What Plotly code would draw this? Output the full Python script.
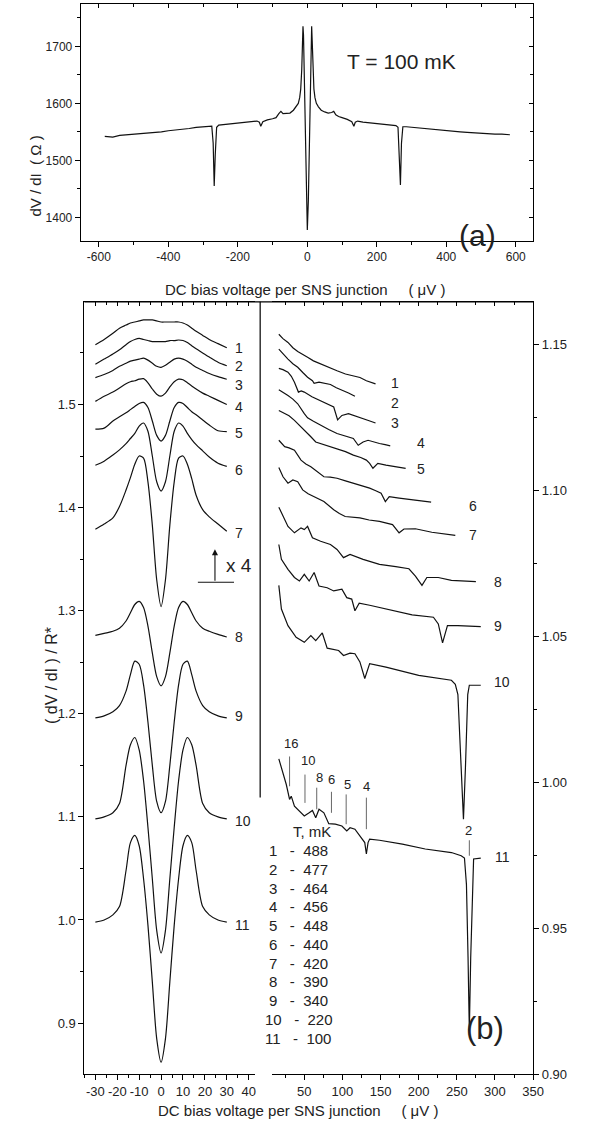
import plotly.graph_objects as go

FONT = "Arial, 'Liberation Sans', Helvetica, sans-serif"
TXT = "#222222"
INK = "#111111"
W, H = 603, 1144

# ---------------- panel (a): dV/dI at T = 100 mK ----------------
a_bias = [-583, -560, -540, -520, -500, -480, -460, -440, -420, -400, -380, -360, -340, -320, -300,
          -285, -275, -271, -268, -265, -261, -255, -240, -220, -200, -180, -160, -145, -138, -134,
          -128, -115, -100, -90, -82, -76, -70, -60, -50, -40, -32, -26, -22, -19, -16,
          -14, -12.5, -11, -9, -6, -3, 0, 3, 6, 9, 11, 12.5, 14, 16, 19, 22, 26, 32, 40, 50,
          60, 70, 76, 82, 90, 100, 115, 128, 134, 138, 145, 160, 180, 200, 220, 240, 255,
          261, 265, 268, 271, 275, 285, 300, 320, 340, 360, 380, 400, 420, 440, 460, 480,
          500, 520, 540, 560, 583]
a_dvdi = [1542, 1541, 1544, 1545, 1546, 1546, 1548, 1549, 1550, 1552, 1553, 1555, 1556, 1558, 1559,
          1560, 1560, 1530, 1455, 1510, 1558, 1562, 1563, 1565, 1566, 1567, 1568, 1569, 1567, 1560,
          1568, 1571, 1573, 1575, 1582, 1586, 1582, 1583, 1583, 1588, 1594, 1600, 1610, 1625, 1660,
          1710, 1735, 1720, 1650, 1530, 1430, 1378, 1430, 1530, 1650, 1720, 1735, 1710, 1660, 1625,
          1610, 1600, 1594, 1588, 1585, 1583, 1584, 1586, 1580, 1577, 1575, 1572, 1568, 1560, 1567,
          1569, 1567, 1566, 1565, 1564, 1562, 1561, 1558, 1510, 1457, 1530, 1559, 1559, 1558, 1557,
          1556, 1555, 1554, 1552, 1551, 1550, 1549, 1548, 1547, 1547, 1546, 1546, 1545]

# ---------------- panel (b), left: central part, x4 ----------------
bias_l = [-30, -26, -22, -19, -16, -14, -12, -10, -8, -6, -4, -2, 0, 2, 4, 6, 8, 10, 12, 14, 16, 19, 22, 26, 30]
l1 = [1.558, 1.563, 1.569, 1.574, 1.577, 1.579, 1.580, 1.581, 1.582, 1.582, 1.582, 1.581, 1.580,
      1.580, 1.580, 1.580, 1.580, 1.579, 1.577, 1.574, 1.571, 1.567, 1.563, 1.559, 1.555]
l2 = [1.539, 1.544, 1.549, 1.553, 1.558, 1.561, 1.563, 1.564, 1.563, 1.562, 1.561, 1.561, 1.561,
      1.561, 1.562, 1.562, 1.5625, 1.562, 1.560, 1.557, 1.554, 1.550, 1.546, 1.541, 1.5376]
l3 = [1.526, 1.529, 1.533, 1.537, 1.540, 1.542, 1.543, 1.544, 1.545, 1.543, 1.540, 1.537, 1.536,
      1.538, 1.541, 1.544, 1.545, 1.544, 1.542, 1.539, 1.536, 1.533, 1.530, 1.527, 1.5245]
l4 = [1.503, 1.508, 1.512, 1.516, 1.520, 1.522, 1.523, 1.5245, 1.525, 1.521, 1.515, 1.510, 1.508,
      1.511, 1.517, 1.522, 1.5245, 1.524, 1.521, 1.518, 1.515, 1.511, 1.508, 1.504, 1.500]
l5 = [1.476, 1.477, 1.484, 1.488, 1.492, 1.495, 1.498, 1.501, 1.502, 1.497, 1.484, 1.470, 1.4645,
      1.470, 1.484, 1.497, 1.502, 1.501, 1.497, 1.493, 1.490, 1.485, 1.480, 1.4745, 1.4737]
l6 = [1.441, 1.445, 1.451, 1.456, 1.462, 1.467, 1.472, 1.479, 1.482, 1.474, 1.450, 1.425, 1.416,
      1.425, 1.450, 1.474, 1.482, 1.479, 1.472, 1.466, 1.461, 1.455, 1.449, 1.443, 1.440]
l7 = [1.379, 1.384, 1.390, 1.401, 1.417, 1.429, 1.442, 1.450, 1.448, 1.425, 1.383, 1.330, 1.304,
      1.330, 1.383, 1.425, 1.448, 1.450, 1.442, 1.428, 1.412, 1.398, 1.391, 1.384, 1.377]
l8 = [1.276, 1.278, 1.280, 1.283, 1.290, 1.298, 1.306, 1.309, 1.303, 1.285, 1.259, 1.236, 1.227,
      1.236, 1.259, 1.285, 1.303, 1.309, 1.306, 1.298, 1.290, 1.283, 1.280, 1.277, 1.2745]
l9 = [1.196, 1.198, 1.202, 1.208, 1.222, 1.238, 1.251, 1.248, 1.228, 1.192, 1.150, 1.115, 1.104,
      1.115, 1.150, 1.192, 1.228, 1.248, 1.251, 1.238, 1.222, 1.208, 1.202, 1.198, 1.196]
l10 = [1.098, 1.100, 1.104, 1.113, 1.150, 1.170, 1.177, 1.165, 1.135, 1.090, 1.040, 0.990, 0.968,
       0.990, 1.040, 1.090, 1.135, 1.165, 1.177, 1.170, 1.150, 1.113, 1.104, 1.100, 1.098]
l11 = [0.998, 1.000, 1.005, 1.013, 1.048, 1.075, 1.082, 1.072, 1.040, 0.995, 0.940, 0.885, 0.862,
       0.885, 0.940, 0.995, 1.040, 1.072, 1.082, 1.075, 1.048, 1.013, 1.005, 1.000, 0.998]

# ---------------- panel (b), right: subgap structure ----------------
r1_bias = [16.6, 22, 28.6, 35, 41.4, 48, 54.3, 62, 71.4, 82, 92.9, 104, 114.3, 123, 131.4, 137, 143.4]
r1_val = [1.1534, 1.1519, 1.1506, 1.1488, 1.1475, 1.1466, 1.1455, 1.1443, 1.1432, 1.1421, 1.1409,
          1.1398, 1.1392, 1.1386, 1.1375, 1.1369, 1.1364]
r2_bias = [16.6, 22, 28.6, 35, 41.4, 48, 54.3, 60.7, 62.9, 69.3, 76, 84.3, 92, 101.4, 108, 116.4]
r2_val = [1.1483, 1.1466, 1.1449, 1.1433, 1.1421, 1.1403, 1.1387, 1.1375, 1.1366, 1.1370, 1.1366,
          1.1362, 1.1351, 1.1341, 1.1333, 1.1322]
r3_bias = [16.6, 22, 28.6, 33, 37.1, 42.3, 46, 50, 60, 71.4, 80, 88.6, 93.7, 99.3, 107.9, 118, 127.1, 135, 143.4]
r3_val = [1.1417, 1.1413, 1.1404, 1.1390, 1.1370, 1.1336, 1.1340, 1.1336, 1.1320, 1.1307, 1.1297,
          1.1285, 1.1241, 1.1256, 1.1262, 1.1254, 1.1245, 1.1238, 1.1230]
r4_bias = [16.6, 22, 28.6, 35, 41.4, 50, 54.3, 62, 71.4, 82, 92.9, 104, 114.3, 120.7, 127.1, 133.6,
           141, 148.6, 156, 162.7]
r4_val = [1.1344, 1.1336, 1.1324, 1.1312, 1.1296, 1.1262, 1.1248, 1.1236, 1.1222, 1.1208, 1.1194,
          1.1186, 1.1177, 1.1154, 1.1165, 1.1171, 1.1165, 1.1160, 1.1156, 1.1152]
r5_bias = [16.6, 24.3, 30, 37.1, 44, 50, 58.6, 65, 71.4, 82, 92.9, 104, 114.3, 124, 131.4, 135.7,
           140, 146.4, 157.1, 170, 182.9]
r5_val = [1.1273, 1.1262, 1.1255, 1.1239, 1.1222, 1.1205, 1.1183, 1.1165, 1.1160, 1.1151, 1.1143,
          1.1132, 1.1120, 1.1112, 1.1103, 1.1092, 1.1075, 1.1092, 1.1086, 1.1080, 1.1075]
r6_bias = [16.6, 24.3, 30, 37.1, 45.7, 52, 58.6, 67, 75.7, 84, 92.9, 104, 114.3, 125, 135.7, 143,
           150.7, 156.3, 161.4, 174.3, 191.4, 205, 216.3]
r6_val = [1.1171, 1.1149, 1.1145, 1.1137, 1.1103, 1.1090, 1.1080, 1.1063, 1.1046, 1.1045, 1.1041,
          1.1032, 1.1024, 1.1016, 1.1007, 1.0999, 1.0990, 1.0961, 1.0978, 1.0973, 1.0967, 1.0963, 1.0959]
r7_bias = [16.6, 22.1, 28.6, 35, 41.4, 47.9, 55, 62.9, 75.7, 88.6, 96, 103.6, 122.9, 135, 148.6,
           165.7, 174.3, 180.7, 195.7, 217.2, 232, 248]
r7_val = [1.1078, 1.1046, 1.1024, 1.1035, 1.1029, 1.1001, 1.0988, 1.0978, 1.0961, 1.0933, 1.0920,
          1.0910, 1.0905, 1.0898, 1.0893, 1.0882, 1.0854, 1.0867, 1.0868, 1.0856, 1.0851, 1.0845]
r8_bias = [16.6, 22.1, 28.6, 37.1, 45.7, 50, 54.3, 60.7, 71.4, 84.3, 92.9, 101.4, 110, 127.1, 148.6,
           170, 187.2, 195.7, 204.3, 210.7, 225.7, 242.9, 260, 275]
r8_val = [1.0942, 1.0910, 1.0876, 1.0854, 1.0871, 1.0865, 1.0876, 1.0837, 1.0825, 1.0814, 1.0797,
          1.0769, 1.0780, 1.0763, 1.0746, 1.0738, 1.0731, 1.0706, 1.0674, 1.0701, 1.0701, 1.0691,
          1.0689, 1.0687]
r9_bias = [16.6, 20, 28.6, 37.1, 43.6, 50, 56.4, 62.9, 69.3, 80, 88.6, 99.3, 105.7, 112.2, 116.4,
           122, 135.7, 165.7, 191.4, 219.3, 225.7, 231.3, 237.7, 251.4, 281.4]
r9_val = [1.0814, 1.0763, 1.0729, 1.0701, 1.0689, 1.0712, 1.0689, 1.0718, 1.0672, 1.0666, 1.0655,
          1.0661, 1.0632, 1.0627, 1.0587, 1.0613, 1.0606, 1.0587, 1.0573, 1.0565, 1.0542, 1.0477,
          1.0536, 1.0536, 1.0533]
r10_bias = [16.6, 20, 28.6, 39.3, 50, 58.6, 65, 73.6, 80, 95, 101.4, 110, 116.4, 122.9, 129.3, 135.7,
            157.1, 200, 242.9, 248, 251.4, 255.7, 258.7, 261.3, 264.3, 266.4, 281.4]
r10_val = [1.0674, 1.0593, 1.0536, 1.0496, 1.0479, 1.0502, 1.0485, 1.0511, 1.0459, 1.0451, 1.0434,
           1.0442, 1.0440, 1.0412, 1.0355, 1.0406, 1.0394, 1.0366, 1.0349, 1.0335, 1.0300, 1.0050,
           0.9873, 1.0050, 1.0300, 1.0332, 1.0332]
r11_bias = [16.6, 26.4, 30.7, 32.9, 37.1, 50, 56.4, 60.7, 65, 69.3, 75.7, 82.1, 90.7, 99.3, 105.7,
            110, 116.4, 122.9, 129.3, 131.4, 133.6, 135.7, 148.6, 178.6, 208.6, 242.9, 255.7, 260,
            262.6, 264.7, 266.4, 268.2, 270.3, 272, 281.4]
r11_val = [1.0080, 0.9992, 0.9941, 0.9952, 0.9918, 0.9884, 0.9895, 0.9903, 0.9878, 0.9907, 0.9895,
           0.9858, 0.9856, 0.9850, 0.9833, 0.9844, 0.9839, 0.9816, 0.9793, 0.9754, 0.9793, 0.9805,
           0.9801, 0.9788, 0.9771, 0.9759, 0.9748, 0.9740, 0.9650, 0.9400, 0.9147, 0.9400, 0.9650,
           0.9737, 0.9740]

curve_ids = ["1", "2", "3", "4", "5", "6", "7", "8", "9", "10", "11"]
temps_mK = [488, 477, 464, 456, 448, 440, 420, 390, 340, 220, 100]

# subharmonic gap markers, n labels
marker_n = ["16", "10", "8", "6", "5", "4", "2"]
marker_bias = [30.7, 50.9, 66.3, 85.6, 104.9, 131.4, 266.4]

# label positions (layout only)
left_lab_x = [35.8] * 9 + [37.3, 37.3]
left_lab_y = [1.555, 1.537, 1.519, 1.4975, 1.4725, 1.4366, 1.375, 1.2745, 1.1975, 1.096, 0.9955]
right_lab_x = [169.2, 169.2, 169.2, 203.0, 203.0, 271.6, 271.6, 304.2, 304.2, 309.3, 309.3]
right_lab_y = [1.1366, 1.1298, 1.1230, 1.1160, 1.1071, 1.0947, 1.0848, 1.0686, 1.0536, 1.0343, 0.9745]
marker_lo = [0.9986, 0.9929, 0.9907, 0.9895, 0.9856, 0.9839, 0.9748]
marker_hi = [1.0088, 1.0026, 0.9981, 0.9967, 0.9958, 0.9947, 0.9801]
marker_lab_x = [32.9, 54.3, 69.3, 85.6, 107.0, 131.4, 265.2]
marker_lab_y = [1.0134, 1.0073, 1.0017, 1.0009, 0.9992, 0.9986, 0.9833]


def px(x):
    return x / W


def py(y):
    return 1 - y / H


def line(x, y, xa, ya, spline=False):
    return go.Scatter(x=x, y=y, xaxis=xa, yaxis=ya, mode="lines", hoverinfo="skip",
                      line=dict(color=INK, width=1.2, shape="spline" if spline else "linear",
                                smoothing=0.8))


fig = go.Figure()
fig.add_trace(line(a_bias, a_dvdi, "x", "y"))
for ys in [l1, l2, l3, l4, l5, l6, l7, l8, l9, l10, l11]:
    fig.add_trace(line(bias_l, ys, "x2", "y2", spline=True))
for xs, ys in [(r1_bias, r1_val), (r2_bias, r2_val), (r3_bias, r3_val), (r4_bias, r4_val),
               (r5_bias, r5_val), (r6_bias, r6_val), (r7_bias, r7_val), (r8_bias, r8_val),
               (r9_bias, r9_val), (r10_bias, r10_val), (r11_bias, r11_val)]:
    fig.add_trace(line(xs, ys, "x3", "y3"))

# empty traces so the inward mirror-tick axes get drawn
for xa, ya in [("x4", "y4"), ("x5", "y2"), ("x6", "y3")]:
    fig.add_trace(go.Scatter(x=[], y=[], xaxis=xa, yaxis=ya, hoverinfo="skip"))


def ax(size, **kw):
    d = dict(showgrid=False, zeroline=False, showline=True, linecolor="black", linewidth=1.2,
             ticks="outside", ticklen=5, tickwidth=1, tickcolor="black",
             tickfont=dict(family=FONT, size=size, color=TXT))
    d.update(kw)
    return d


def minor(step, where="outside", length=3):
    return dict(tickmode="linear", tick0=0, dtick=step, ticks=where, ticklen=length,
                tickwidth=1, tickcolor="black", showgrid=False)


def inner(rng, step, sub, **kw):
    d = dict(range=rng, showgrid=False, zeroline=False, showline=True, linecolor="black",
             linewidth=1.2, showticklabels=False,
             ticks="inside", ticklen=4, tickwidth=1, tickcolor="black",
             tickmode="linear", tick0=0, dtick=step, minor=minor(sub, "inside", 3))
    d.update(kw)
    return d


a_ticks = [-600, -400, -200, 0, 200, 400, 600]
l_ticks = [-30, -20, -10, 0, 10, 20, 30, 40]
A_X = [-652, 649]
A_Y = [1359.4, 1774.3]
B_LX = [-35, 43]
B_RX = [7.2, 350]

fig.update_layout(
    width=W, height=H, margin=dict(l=0, r=0, t=0, b=0),
    paper_bgcolor="white", plot_bgcolor="white", showlegend=False,
    font=dict(family=FONT, color=TXT),
    xaxis=ax(12, domain=[px(82.3), px(542.7)], anchor="y", range=A_X, mirror=True,
             tickmode="array", tickvals=a_ticks, ticktext=[str(v) for v in a_ticks],
             minor=minor(100)),
    yaxis=ax(12, domain=[py(242.3), py(4)], anchor="x", range=A_Y, mirror=True,
             tickmode="linear", tick0=0, dtick=100, minor=minor(50)),
    xaxis2=ax(13, domain=[px(86), px(260)], anchor="y2", range=B_LX,
              tickmode="array", tickvals=l_ticks, ticktext=[str(v) for v in l_ticks],
              minor=minor(5)),
    yaxis2=ax(13, domain=[py(1081.7), py(304)], anchor="x2", range=[0.8505, 1.5995],
              tickmode="linear", tick0=0, dtick=0.1, tickformat=".1f", minor=minor(0.05)),
    xaxis3=ax(13, domain=[px(276.7), px(543)], anchor="y3", range=B_RX,
              tickmode="linear", tick0=0, dtick=50, minor=minor(25)),
    yaxis3=ax(13, domain=[py(1081.7), py(304)], anchor="x3", side="right", range=[0.90, 1.1645],
              tickmode="linear", tick0=0, dtick=0.05, tickformat=".2f", minor=minor(0.025)),
    # inward ticks on the top / right frame of (a) and the top frame of (b)
    xaxis4=inner(A_X, 200, 100, overlaying="x", anchor="y", side="top"),
    yaxis4=inner(A_Y, 100, 50, overlaying="y", anchor="x", side="right"),
    xaxis5=inner(B_LX, 10, 5, overlaying="x2", anchor="y2", side="top"),
    xaxis6=inner(B_RX, 50, 25, overlaying="x3", anchor="y3", side="top"),
)

shapes = [
    # top frame of panel (b) and the partial divider
    dict(type="line", xref="paper", yref="paper", x0=px(86), x1=px(543), y0=py(304), y1=py(304),
         line=dict(color="black", width=1.2)),
    dict(type="line", xref="paper", yref="paper", x0=px(265), x1=px(265), y0=py(304), y1=py(803),
         line=dict(color="black", width=1.2)),
    # baseline of the "x 4" marker
    dict(type="line", xref="x2", yref="y2", x0=16.8, x1=33.3, y0=1.3275, y1=1.3275,
         line=dict(color=INK, width=1.1)),
]
for xb, lo, hi in zip(marker_bias, marker_lo, marker_hi):
    shapes.append(dict(type="line", xref="x3", yref="y3", x0=xb, x1=xb, y0=lo, y1=hi,
                       line=dict(color="#666666", width=1)))
fig.update_layout(shapes=shapes)

ann = []


def text(t, x, y, size, xref="paper", yref="paper", **kw):
    d = dict(text=t, x=x, y=y, xref=xref, yref=yref, showarrow=False,
             font=dict(family=FONT, size=size, color=TXT))
    d.update(kw)
    ann.append(d)


NB = "\u00a0"
text("T = 100 mK", px(466.7), py(48.3), 21)
text("(a)", px(507), py(219), 30)
text("(b)", px(515.8), py(1055), 31)
text("dV / dI" + NB * 2 + "( \u03a9 )", px(26), py(135), 15, textangle=-90)
text("( dV / dI ) / R*", px(42), py(680), 16, textangle=-90)
title = "DC bias voltage per SNS junction" + NB * 5 + "( \u03bcV )"
text(title, px(310.5), py(281), 15)
text(title, px(304), py(1129), 15)

for cid, xx, yy in zip(curve_ids, left_lab_x, left_lab_y):
    text(cid, xx, yy, 14, xref="x2", yref="y2")
for cid, xx, yy in zip(curve_ids, right_lab_x, right_lab_y):
    text(cid, xx, yy, 14, xref="x3", yref="y3")
for n, xx, yy in zip(marker_n, marker_lab_x, marker_lab_y):
    text(n, xx, yy, 13, xref="x3", yref="y3")

text("x 4", 35.5, 1.344, 19, xref="x2", yref="y2")
ann.append(dict(text="", x=24.6, y=1.3595, xref="x2", yref="y2", ax=24.6, ay=1.3275,
                axref="x2", ayref="y2", showarrow=True, arrowhead=2, arrowsize=1.1,
                arrowwidth=1.1, arrowcolor=INK))

# temperature table
text("T, mK", px(318.3), py(848.3), 15)
row_y0, row_dy = 867.3, 18.87
for i, (cid, t) in enumerate(zip(curve_ids, temps_mK)):
    x0 = 271.7 if len(cid) == 1 else 268.3
    text(cid + NB * 3 + "-" + NB * 2 + str(t), px(x0), py(row_y0 + i * row_dy), 15, xanchor="left")

fig.update_layout(annotations=ann)
fig.write_html("out.html", config={"displayModeBar": False},
               post_script="document.body.style.margin='0';document.body.style.padding='0';")
